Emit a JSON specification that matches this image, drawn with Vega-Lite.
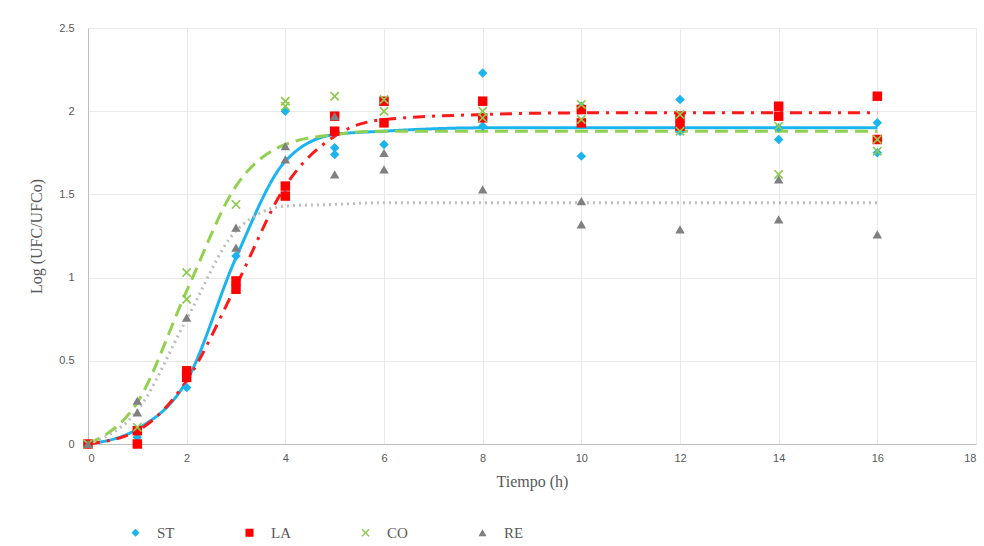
{
  "$schema": "https://vega.github.io/schema/vega-lite/v6.json",
  "autosize": {"type": "none"},
  "width": 888,
  "height": 416,
  "padding": {"left": 88, "top": 28, "right": 8, "bottom": 102},
  "background": "white",
  "config": {
    "view": {"stroke": null},
    "axis": {
      "gridColor": "#EAEAEA",
      "gridWidth": 1,
      "domainColor": "#BFBFBF",
      "ticks": false,
      "labelFont": "Liberation Sans",
      "labelFontSize": 11,
      "labelColor": "#595959",
      "titleFont": "Liberation Serif",
      "titleFontSize": 16,
      "titleFontWeight": "normal",
      "titleColor": "#595959"
    }
  },
  "datasets": {
    "points": [
      {"series": "ST", "t": 0, "v": 0},
      {"series": "ST", "t": 1, "v": 0.04},
      {"series": "ST", "t": 1, "v": 0.08},
      {"series": "ST", "t": 2, "v": 0.34},
      {"series": "ST", "t": 2, "v": 0.40},
      {"series": "ST", "t": 3, "v": 0.97},
      {"series": "ST", "t": 3, "v": 1.13},
      {"series": "ST", "t": 4, "v": 2.0},
      {"series": "ST", "t": 4, "v": 1.5},
      {"series": "ST", "t": 5, "v": 1.78},
      {"series": "ST", "t": 5, "v": 1.74},
      {"series": "ST", "t": 6, "v": 1.80},
      {"series": "ST", "t": 6, "v": 1.93},
      {"series": "ST", "t": 8, "v": 2.23},
      {"series": "ST", "t": 8, "v": 1.91},
      {"series": "ST", "t": 10, "v": 1.73},
      {"series": "ST", "t": 10, "v": 2.03},
      {"series": "ST", "t": 12, "v": 2.07},
      {"series": "ST", "t": 12, "v": 1.88},
      {"series": "ST", "t": 14, "v": 1.83},
      {"series": "ST", "t": 14, "v": 1.90},
      {"series": "ST", "t": 16, "v": 1.75},
      {"series": "ST", "t": 16, "v": 1.93},
      {"series": "LA", "t": 0, "v": 0},
      {"series": "LA", "t": 1, "v": 0.0},
      {"series": "LA", "t": 1, "v": 0.08},
      {"series": "LA", "t": 2, "v": 0.44},
      {"series": "LA", "t": 2, "v": 0.40},
      {"series": "LA", "t": 3, "v": 0.98},
      {"series": "LA", "t": 3, "v": 0.93},
      {"series": "LA", "t": 4, "v": 1.55},
      {"series": "LA", "t": 4, "v": 1.49},
      {"series": "LA", "t": 5, "v": 1.88},
      {"series": "LA", "t": 5, "v": 1.97},
      {"series": "LA", "t": 6, "v": 2.06},
      {"series": "LA", "t": 6, "v": 1.93},
      {"series": "LA", "t": 8, "v": 2.06},
      {"series": "LA", "t": 8, "v": 1.96},
      {"series": "LA", "t": 10, "v": 2.01},
      {"series": "LA", "t": 10, "v": 1.93},
      {"series": "LA", "t": 12, "v": 1.96},
      {"series": "LA", "t": 12, "v": 1.91},
      {"series": "LA", "t": 14, "v": 2.03},
      {"series": "LA", "t": 14, "v": 1.97},
      {"series": "LA", "t": 16, "v": 2.09},
      {"series": "LA", "t": 16, "v": 1.83},
      {"series": "CO", "t": 0, "v": 0},
      {"series": "CO", "t": 1, "v": 0.10},
      {"series": "CO", "t": 2, "v": 1.03},
      {"series": "CO", "t": 2, "v": 0.87},
      {"series": "CO", "t": 3, "v": 1.44},
      {"series": "CO", "t": 4, "v": 2.06},
      {"series": "CO", "t": 4, "v": 2.03},
      {"series": "CO", "t": 5, "v": 2.09},
      {"series": "CO", "t": 6, "v": 2.07},
      {"series": "CO", "t": 6, "v": 2.0},
      {"series": "CO", "t": 8, "v": 2.0},
      {"series": "CO", "t": 8, "v": 1.96},
      {"series": "CO", "t": 10, "v": 2.04},
      {"series": "CO", "t": 10, "v": 1.95},
      {"series": "CO", "t": 12, "v": 1.98},
      {"series": "CO", "t": 12, "v": 1.88},
      {"series": "CO", "t": 14, "v": 1.62},
      {"series": "CO", "t": 14, "v": 1.91},
      {"series": "CO", "t": 16, "v": 1.83},
      {"series": "CO", "t": 16, "v": 1.76},
      {"series": "RE", "t": 0, "v": 0},
      {"series": "RE", "t": 1, "v": 0.26},
      {"series": "RE", "t": 1, "v": 0.19},
      {"series": "RE", "t": 2, "v": 0.76},
      {"series": "RE", "t": 3, "v": 1.30},
      {"series": "RE", "t": 3, "v": 1.18},
      {"series": "RE", "t": 4, "v": 1.79},
      {"series": "RE", "t": 4, "v": 1.71},
      {"series": "RE", "t": 5, "v": 1.97},
      {"series": "RE", "t": 5, "v": 1.62},
      {"series": "RE", "t": 6, "v": 1.75},
      {"series": "RE", "t": 6, "v": 1.65},
      {"series": "RE", "t": 8, "v": 1.53},
      {"series": "RE", "t": 10, "v": 1.46},
      {"series": "RE", "t": 10, "v": 1.32},
      {"series": "RE", "t": 12, "v": 1.29},
      {"series": "RE", "t": 14, "v": 1.59},
      {"series": "RE", "t": 14, "v": 1.35},
      {"series": "RE", "t": 16, "v": 1.26}
    ],
    "curves": [
      {"fit": "ST", "t": 0, "v": 0},
      {"fit": "ST", "t": 1, "v": 0.09},
      {"fit": "ST", "t": 2, "v": 0.38},
      {"fit": "ST", "t": 3, "v": 1.12},
      {"fit": "ST", "t": 4, "v": 1.70},
      {"fit": "ST", "t": 5, "v": 1.86},
      {"fit": "ST", "t": 6, "v": 1.88},
      {"fit": "ST", "t": 8, "v": 1.90},
      {"fit": "ST", "t": 10, "v": 1.90},
      {"fit": "ST", "t": 12, "v": 1.90},
      {"fit": "ST", "t": 14, "v": 1.90},
      {"fit": "ST", "t": 16, "v": 1.90},
      {"fit": "LA", "t": 0, "v": 0},
      {"fit": "LA", "t": 1, "v": 0.08},
      {"fit": "LA", "t": 2, "v": 0.38},
      {"fit": "LA", "t": 3, "v": 0.95},
      {"fit": "LA", "t": 4, "v": 1.55},
      {"fit": "LA", "t": 5, "v": 1.85},
      {"fit": "LA", "t": 6, "v": 1.95},
      {"fit": "LA", "t": 8, "v": 1.98},
      {"fit": "LA", "t": 10, "v": 1.99},
      {"fit": "LA", "t": 12, "v": 1.99},
      {"fit": "LA", "t": 14, "v": 1.99},
      {"fit": "LA", "t": 16, "v": 1.99},
      {"fit": "CO", "t": 0, "v": 0},
      {"fit": "CO", "t": 1, "v": 0.25},
      {"fit": "CO", "t": 2, "v": 0.92},
      {"fit": "CO", "t": 3, "v": 1.55},
      {"fit": "CO", "t": 4, "v": 1.80},
      {"fit": "CO", "t": 5, "v": 1.86},
      {"fit": "CO", "t": 6, "v": 1.88},
      {"fit": "CO", "t": 8, "v": 1.88},
      {"fit": "CO", "t": 10, "v": 1.88},
      {"fit": "CO", "t": 12, "v": 1.88},
      {"fit": "CO", "t": 14, "v": 1.88},
      {"fit": "CO", "t": 16, "v": 1.88},
      {"fit": "RE", "t": 0, "v": 0},
      {"fit": "RE", "t": 1, "v": 0.20},
      {"fit": "RE", "t": 2, "v": 0.75},
      {"fit": "RE", "t": 3, "v": 1.28},
      {"fit": "RE", "t": 4, "v": 1.43},
      {"fit": "RE", "t": 5, "v": 1.44},
      {"fit": "RE", "t": 6, "v": 1.45},
      {"fit": "RE", "t": 8, "v": 1.45},
      {"fit": "RE", "t": 10, "v": 1.45},
      {"fit": "RE", "t": 12, "v": 1.45},
      {"fit": "RE", "t": 14, "v": 1.45},
      {"fit": "RE", "t": 16, "v": 1.45}
    ]
  },
  "layer": [
    {
      "data": {"name": "curves"},
      "mark": {"type": "line", "interpolate": "monotone"},
      "encoding": {
        "x": {"field": "t", "type": "quantitative", "scale": {"domain": [0, 18], "nice": false}, "axis": {"title": "Tiempo (h)", "values": [0, 2, 4, 6, 8, 10, 12, 14, 16, 18], "labelPadding": 8, "titlePadding": 10, "grid": true}},
        "y": {"field": "v", "type": "quantitative", "scale": {"domain": [0, 2.5], "nice": false}, "axis": {"title": "Log (UFC/UFCo)", "values": [0, 0.5, 1, 1.5, 2, 2.5], "format": "~g", "labelPadding": 14, "titlePadding": 14, "domain": true}},
        "stroke": {"field": "fit", "type": "nominal", "scale": {"domain": ["ST", "LA", "CO", "RE"], "range": ["#1AB4EE", "#FF1A1A", "#92D050", "#BDBDBD"]}, "legend": null},
        "strokeDash": {"field": "fit", "type": "nominal", "scale": {"domain": ["ST", "LA", "CO", "RE"], "range": [[1, 0], [12, 7, 3, 7], [13, 7], [2, 4]]}, "legend": null},
        "strokeWidth": {"field": "fit", "type": "nominal", "scale": {"domain": ["ST", "LA", "CO", "RE"], "range": [3, 3, 3, 2.5]}, "legend": null},
        "detail": {"field": "fit", "type": "nominal"}
      }
    },
    {
      "data": {"name": "points"},
      "mark": {"type": "point", "filled": true, "opacity": 1, "size": 90},
      "encoding": {
        "x": {"field": "t", "type": "quantitative"},
        "y": {"field": "v", "type": "quantitative"},
        "color": {"field": "series", "type": "nominal", "scale": {"domain": ["ST", "LA", "CO", "RE"], "range": ["#1AB4EE", "#FF0000", "#8CCB4E", "#808080"]}, "legend": {"title": null, "orient": "none", "direction": "horizontal", "legendX": 40, "legendY": 497, "columns": 4, "columnPadding": 67, "labelFont": "Liberation Serif", "labelFontSize": 15, "labelColor": "#595959", "labelOffset": 14, "symbolSize": 65}},
        "shape": {"field": "series", "type": "nominal", "scale": {"domain": ["ST", "LA", "CO", "RE"], "range": ["diamond", "square", "M-1,-0.75L-0.75,-1L0,-0.25L0.75,-1L1,-0.75L0.25,0L1,0.75L0.75,1L0,0.25L-0.75,1L-1,0.75L-0.25,0Z", "triangle-up"]}, "legend": {"title": null, "orient": "none", "direction": "horizontal", "legendX": 40, "legendY": 497, "columns": 4, "columnPadding": 67, "labelFont": "Liberation Serif", "labelFontSize": 15, "labelColor": "#595959", "labelOffset": 14, "symbolSize": 65}}
      }
    }
  ],
  "resolve": {"legend": {"color": "independent", "shape": "independent"}}
}
